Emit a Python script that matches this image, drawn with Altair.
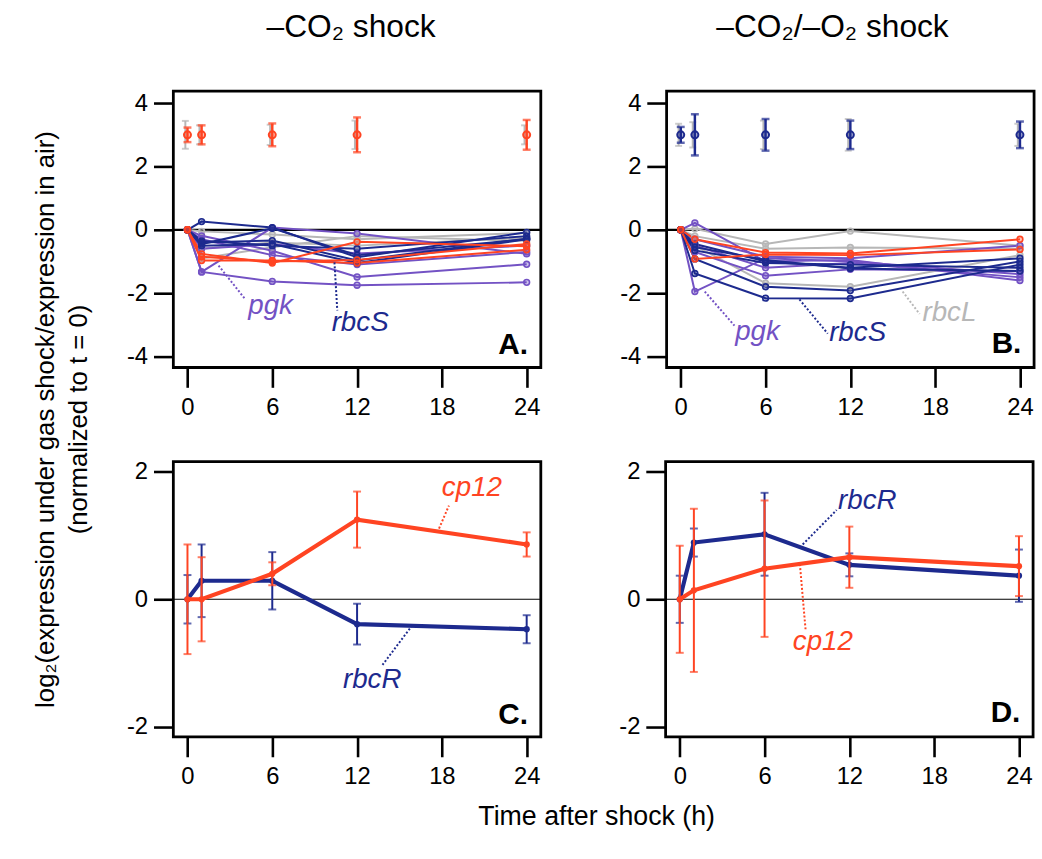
import altair as alt
import pandas as pd

FONT = "Liberation Sans"
TIMES = [0, 1, 6, 12, 24]
X_TICKS = [0, 6, 12, 18, 24]
COLOR_DOMAIN = ["gray", "purple", "navy", "red"]
COLOR_RANGE = ["#b7b7b7", "#7352c4", "#1d2a8e", "#ff4422"]

# Panel A: -CO2 shock, individual genes (log2 ratio, normalized to t=0)
A_GROUPS = ["gray", "gray", "gray", "purple", "purple", "purple", "purple", "purple",
            "navy", "navy", "navy", "navy", "navy", "red", "red", "red"]
A_VALUES = [
    [0, -0.05, -0.15, -0.30, -0.10],
    [0, -0.60, -0.40, -0.50, -0.25],
    [0, -0.90, -0.55, -0.20, -0.35],
    [0, -1.33, -1.63, -1.75, -1.66],
    [0, -1.33, 0.07, -0.12, -0.76],
    [0, -0.19, -0.66, -1.49, -1.09],
    [0, -0.60, -0.45, -0.75, -0.50],
    [0, -0.30, -0.80, -1.10, -0.70],
    [0, 0.26, 0.07, -0.87, -0.08],
    [0, -0.40, -0.34, -0.97, -0.28],
    [0, -0.35, -0.50, -0.60, -0.20],
    [0, -0.45, 0.05, -0.80, -0.30],
    [0, -0.50, -0.45, -1.05, -0.30],
    [0, -0.76, -1.05, -0.38, -0.52],
    [0, -0.97, -0.97, -1.05, -0.63],
    [0, -0.85, -1.00, -0.95, -0.45],
]

# Panel B: -CO2/-O2 shock
B_GROUPS = ["gray", "gray", "gray", "purple", "purple", "purple", "purple", "purple",
            "navy", "navy", "navy", "navy", "navy", "red", "red"]
B_VALUES = [
    [0, 0.03, -0.45, -0.04, -0.50],
    [0, -0.20, -0.60, -0.56, -0.60],
    [0, -0.50, -1.69, -1.80, -0.80],
    [0, 0.22, -1.00, -0.95, -1.60],
    [0, -1.95, -0.90, -1.00, -1.40],
    [0, -0.50, -1.20, -1.05, -1.50],
    [0, -0.70, -1.45, -1.25, -1.30],
    [0, -0.30, -0.85, -0.90, -0.50],
    [0, -0.45, -1.00, -1.20, -0.90],
    [0, -0.65, -1.05, -1.10, -1.20],
    [0, -0.92, -1.80, -1.92, -1.00],
    [0, -1.38, -2.16, -2.17, -1.10],
    [0, -0.55, -0.95, -1.22, -1.30],
    [0, -0.30, -0.72, -0.75, -0.30],
    [0, -0.92, -0.78, -0.80, -0.62],
]

# Representative error bars drawn at y = 3
REF_LEVEL = 3
A_REF_SD = [0.23, 0.30, 0.36, 0.55, 0.47]
A_REF_SD_GRAY = [0.44, 0.30, 0.32, 0.45, 0.30]
B_REF_SD = [0.25, 0.65, 0.50, 0.45, 0.42]
B_REF_SD_GRAY = [0.35, 0.40, 0.45, 0.50, 0.35]

# Panels C and D: cp12 and rbcR with error bars
C_CP12 = [0, 0, 0.40, 1.25, 0.86]
C_CP12_SD = [0.86, 0.66, 0.18, 0.44, 0.19]
C_RBCR = [0, 0.29, 0.29, -0.39, -0.47]
C_RBCR_SD = [0.38, 0.57, 0.45, 0.32, 0.22]
D_CP12 = [0, 0.14, 0.48, 0.66, 0.52]
D_CP12_SD = [0.84, 1.28, 1.07, 0.48, 0.47]
D_RBCR = [0, 0.89, 1.02, 0.54, 0.37]
D_RBCR_SD = [0.37, 0.22, 0.65, 0.18, 0.41]

# Gene labels (text, group, x, y) and leader lines (group, x, y, x2, y2)
A_LABELS = [("pgk", "purple", 4.3, -2.4), ("rbcS", "navy", 10.2, -2.94)]
A_LEADERS = [("purple", 2.2, -1.13, 4.1, -2.2), ("navy", 10.4, -1.03, 10.6, -2.55)]
B_LABELS = [("pgk", "purple", 3.85, -3.22), ("rbcS", "navy", 10.5, -3.25), ("rbcL", "gray", 17.1, -2.63)]
B_LEADERS = [("purple", 1.7, -1.95, 3.8, -3.03), ("navy", 8.4, -2.2, 10.4, -3.28),
             ("gray", 15.7, -1.95, 16.9, -2.66)]
C_LABELS = [("cp12", "red", 18.0, 1.75), ("rbcR", "navy", 11.0, -1.27)]
C_LEADERS = [("red", 17.8, 1.11, 18.5, 1.47), ("navy", 15.9, -0.41, 13.8, -1.03)]
D_LABELS = [("rbcR", "navy", 11.2, 1.54), ("cp12", "red", 8.0, -0.67)]
D_LEADERS = [("navy", 8.7, 0.86, 11.1, 1.4), ("red", 8.5, 0.55, 8.9, -0.47)]
PANEL_LETTERS = {"A.": -3.63, "B.": -3.6, "C.": -1.81, "D.": -1.78}

TOP_DOMAIN = [-4.35, 4.38]
BOT_DOMAIN = [-2.16, 2.16]
X_DOMAIN = [-1, 25]
PW, PH = 371, 279

color_scale = alt.Scale(domain=COLOR_DOMAIN, range=COLOR_RANGE)


def xenc(field="t"):
    return alt.X(f"{field}:Q", scale=alt.Scale(domain=X_DOMAIN, nice=False, zero=False),
                 axis=alt.Axis(values=X_TICKS, title=None))


def yenc(domain, ticks, field="v"):
    return alt.Y(f"{field}:Q", scale=alt.Scale(domain=domain, nice=False, zero=False),
                 axis=alt.Axis(values=ticks, title=None, labelExpr="'' + datum.value"))


def lines_df(groups, values, prefix):
    rows = []
    for i, (g, vals) in enumerate(zip(groups, values)):
        for t, v in zip(TIMES, vals):
            rows.append({"series": f"{prefix}{i:02d}", "group": g, "t": t, "v": v})
    return pd.DataFrame(rows)


def annotations(labels, leaders, letter, letter_y):
    lab = pd.DataFrame(labels, columns=["text", "group", "t", "v"])
    lead = pd.DataFrame(leaders, columns=["group", "t", "v", "t2", "v2"])
    let = pd.DataFrame({"text": [letter], "t": [24.1], "v": [letter_y]})
    leader = alt.Chart(lead).mark_rule(strokeWidth=2, strokeDash=[2, 2]).encode(
        x="t:Q", y="v:Q", x2="t2:Q", y2="v2:Q",
        color=alt.Color("group:N", scale=color_scale, legend=None))
    text = alt.Chart(lab).mark_text(font=FONT, fontSize=28, fontStyle="italic",
                                    align="left", baseline="middle").encode(
        x="t:Q", y="v:Q", text="text:N",
        color=alt.Color("group:N", scale=color_scale, legend=None))
    ltr = alt.Chart(let).mark_text(font=FONT, fontSize=30, fontWeight="bold",
                                   align="right", baseline="middle", color="black").encode(
        x="t:Q", y="v:Q", text="text:N")
    return [leader, text, ltr]


def zero_rule(width):
    return alt.Chart(pd.DataFrame({"v": [0]})).mark_rule(color="black", strokeWidth=width).encode(y="v:Q")


def top_panel(groups, values, prefix, ref_sd, ref_sd_gray, ref_group, labels, leaders, letter, title, tdx):
    df = lines_df(groups, values, prefix)
    ref = pd.DataFrame({"t": TIMES, "v": [REF_LEVEL] * 5,
                        "lo": [REF_LEVEL - s for s in ref_sd], "hi": [REF_LEVEL + s for s in ref_sd],
                        "group": [ref_group] * 5})
    refg = pd.DataFrame({"t": [t - 0.15 for t in TIMES], "v": [REF_LEVEL] * 5,
                         "lo": [REF_LEVEL - s for s in ref_sd_gray],
                         "hi": [REF_LEVEL + s for s in ref_sd_gray]})
    col = alt.Color("group:N", scale=color_scale, legend=None)
    base = alt.Chart(df).encode(x=xenc(), y=yenc(TOP_DOMAIN, [-4, -2, 0, 2, 4]))
    lines = base.mark_line(strokeWidth=2).encode(color=col, detail="series:N",
                                                   strokeWidth=alt.condition("datum.group == 'red'", alt.value(2.6), alt.value(1.8)))
    pts = base.mark_point(filled=False, size=34, strokeWidth=1.6, fillOpacity=0.35).encode(color=col, fill=col)
    g_rule = alt.Chart(refg).mark_rule(color="#b7b7b7", strokeWidth=2).encode(x="t:Q", y="lo:Q", y2="hi:Q")
    g_lo = alt.Chart(refg).mark_tick(color="#b7b7b7", size=7, thickness=2, orient="horizontal").encode(x="t:Q", y="lo:Q")
    g_hi = alt.Chart(refg).mark_tick(color="#b7b7b7", size=7, thickness=2, orient="horizontal").encode(x="t:Q", y="hi:Q")
    r_rule = alt.Chart(ref).mark_rule(strokeWidth=2.5).encode(x="t:Q", y="lo:Q", y2="hi:Q", color=col)
    r_lo = alt.Chart(ref).mark_tick(size=8, thickness=2.5, orient="horizontal").encode(x="t:Q", y="lo:Q", color=col)
    r_hi = alt.Chart(ref).mark_tick(size=8, thickness=2.5, orient="horizontal").encode(x="t:Q", y="hi:Q", color=col)
    r_pt = alt.Chart(ref).mark_point(filled=False, size=50, strokeWidth=2, fillOpacity=0.35).encode(
        x="t:Q", y="v:Q", color=col, fill=col)
    layers = [zero_rule(2.2), lines, pts, g_rule, g_lo, g_hi, r_rule, r_lo, r_hi, r_pt] + \
        annotations(labels, leaders, letter, PANEL_LETTERS[letter])
    return alt.layer(*layers).properties(
        width=PW, height=PH,
        title=alt.TitleParams(title, fontSize=32, font=FONT, fontWeight="normal", offset=48,
                              anchor="middle", dx=tdx))


def bottom_panel(cp12, cp12_sd, rbcr, rbcr_sd, labels, leaders, letter):
    rows = []
    for name, group, vals, sds in [("rbcR", "navy", rbcr, rbcr_sd), ("cp12", "red", cp12, cp12_sd)]:
        for t, v, s in zip(TIMES, vals, sds):
            rows.append({"gene": name, "group": group, "t": t, "v": v, "lo": v - s, "hi": v + s})
    df = pd.DataFrame(rows)
    col = alt.Color("group:N", scale=color_scale, legend=None)
    layers = [zero_rule(1.2)]
    for name in ["rbcR", "cp12"]:
        sub = alt.Chart(df).transform_filter(alt.datum.gene == name)
        b = sub.encode(x=xenc(), y=yenc(BOT_DOMAIN, [-2, 0, 2]), color=col)
        layers += [
            sub.mark_rule(strokeWidth=2).encode(x="t:Q", y="lo:Q", y2="hi:Q", color=col),
            sub.mark_tick(size=8, thickness=2, orient="horizontal").encode(x="t:Q", y="lo:Q", color=col),
            sub.mark_tick(size=8, thickness=2, orient="horizontal").encode(x="t:Q", y="hi:Q", color=col),
            b.mark_line(strokeWidth=4.2),
            b.mark_circle(size=40, opacity=1),
        ]
    layers += annotations(labels, leaders, letter, PANEL_LETTERS[letter])
    return alt.layer(*layers).properties(width=PW, height=278)


panel_a = top_panel(A_GROUPS, A_VALUES, "a", A_REF_SD, A_REF_SD_GRAY, "red", A_LABELS, A_LEADERS, "A.",
                    "–CO₂ shock", -6)
panel_b = top_panel(B_GROUPS, B_VALUES, "b", B_REF_SD, B_REF_SD_GRAY, "navy", B_LABELS, B_LEADERS, "B.",
                    "–CO₂/–O₂ shock", -18)
panel_c = bottom_panel(C_CP12, C_CP12_SD, C_RBCR, C_RBCR_SD, C_LABELS, C_LEADERS, "C.")
panel_d = bottom_panel(D_CP12, D_CP12_SD, D_RBCR, D_RBCR_SD, D_LABELS, D_LEADERS, "D.")

row1 = alt.hconcat(panel_a, panel_b, spacing=75)
row2 = alt.hconcat(panel_c, panel_d, spacing=75)
grid = alt.vconcat(row1, row2, spacing=37,
                   title=alt.TitleParams("Time after shock (h)", orient="bottom", fontSize=27, font=FONT,
                                         fontWeight="normal", anchor="middle", offset=14, dx=16))
chart = alt.hconcat(grid, title=alt.TitleParams(
    ["log₂(expression under gas shock/expression in air)", "(normalized to t = 0)"],
    orient="left", fontSize=26, font=FONT, fontWeight="normal", anchor="middle", lineHeight=34, offset=33)
).configure(
    background="white", padding={"left": 33, "top": 5, "right": 5, "bottom": 5}
).configure_view(stroke="black", strokeWidth=2.8).configure_axis(
    domain=False, grid=False, labelFont=FONT, labelFontSize=24, labelColor="black",
    tickColor="black", tickWidth=2.6, tickSize=20
).configure_axisX(labelPadding=8).configure_axisY(labelPadding=6)

chart.save("out.html", embed_options={"renderer": "svg", "actions": False})
